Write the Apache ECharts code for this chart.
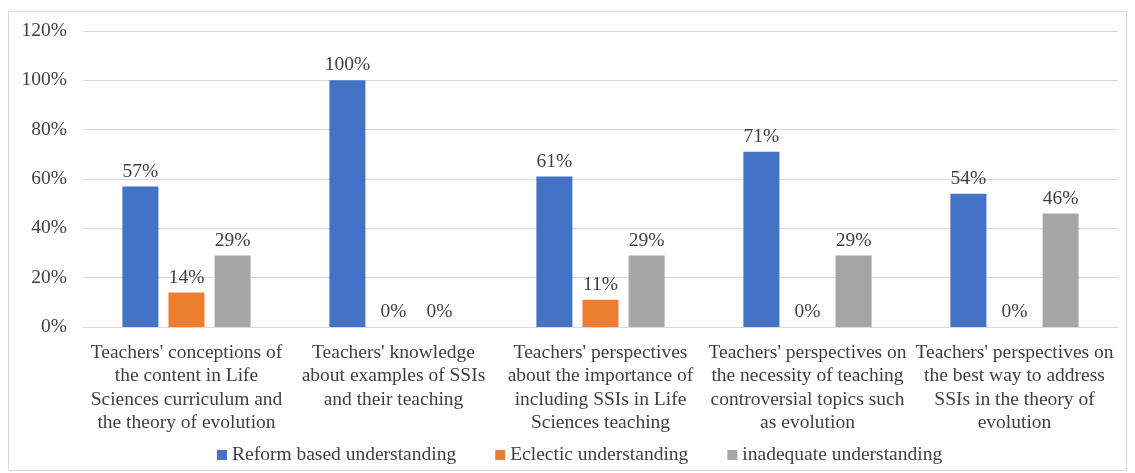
<!DOCTYPE html>
<html>
<head>
<meta charset="utf-8">
<script src="https://cdn.jsdelivr.net/npm/echarts@6/dist/echarts.min.js"></script>
<style>
  html, body { margin: 0; padding: 0; background: #fff; }
  #main { width: 1135px; height: 473px; }
</style>
</head>
<body>
<div id="main"></div>
<script>
// categories as printed under the axis (line breaks as in the figure)
var categories = [
  "Teachers' conceptions of\nthe content in Life\nSciences curriculum and\nthe theory of evolution",
  "Teachers' knowledge\nabout examples of SSIs\nand their teaching",
  "Teachers' perspectives\nabout the importance of\nincluding SSIs in Life\nSciences teaching",
  "Teachers' perspectives on\nthe necessity of teaching\ncontroversial topics such\nas evolution",
  "Teachers' perspectives on\nthe best way to address\nSSIs in the theory of\nevolution"
]
var seriesNames = ['Reform based understanding', 'Eclectic understanding', 'inadequate understanding']
var reformValues = [57, 100, 61, 71, 54]
var eclecticValues = [14, 0, 11, 0, 0]
var inadequateValues = [29, 0, 29, 29, 46]
var yTicks = [0, 20, 40, 60, 80, 100, 120]

var font = 'Liberation Serif'
var textColor = '#404040'
var chartDom = document.getElementById('main')
var myChart = echarts.init(chartDom)

function barSeries(name, data, color) {
  return {
    name: name,
    type: 'bar',
    data: data,
    barWidth: '17.4%',
    barGap: '28%',
    itemStyle: { color: color },
    label: {
      show: true,
      position: 'top',
      distance: 5,
      formatter: '{c}%',
      color: textColor,
      fontFamily: font,
      fontSize: 19.5
    }
  }
}

var option = {
  animation: false,
  backgroundColor: '#fff',
  graphic: [
    {
      type: 'rect',
      shape: { x: 8.5, y: 11.5, width: 1118, height: 459 },
      style: { fill: 'none', stroke: '#d9d9d9', lineWidth: 1 },
      silent: true
    }
  ],
  legend: {
    bottom: 3,
    left: 212,
    itemWidth: 10,
    itemHeight: 10,
    itemGap: 39,
    icon: 'rect',
    textStyle: { color: textColor, fontFamily: font, fontSize: 19.5 },
    data: seriesNames
  },
  grid: {
    left: 83,
    right: 17,
    top: 31,
    bottom: 146,
    containLabel: false
  },
  xAxis: {
    type: 'category',
    data: categories,
    axisTick: { show: false },
    axisLine: { lineStyle: { color: '#d9d9d9' } },
    axisLabel: {
      interval: 0,
      color: textColor,
      fontFamily: font,
      fontSize: 19.5,
      lineHeight: 23.5,
      margin: 14
    }
  },
  yAxis: {
    type: 'value',
    min: yTicks[0],
    max: yTicks[yTicks.length - 1],
    interval: 20,
    axisLine: { show: false },
    axisTick: { show: false },
    splitLine: { lineStyle: { color: '#d9d9d9' } },
    axisLabel: {
      formatter: '{value}%',
      color: textColor,
      fontFamily: font,
      fontSize: 19.5,
      margin: 16
    }
  },
  series: [
    barSeries(seriesNames[0], reformValues, '#4472C4'),
    barSeries(seriesNames[1], eclecticValues, '#ED7D31'),
    barSeries(seriesNames[2], inadequateValues, '#A5A5A5')
  ]
}

myChart.setOption(option)
</script>
</body>
</html>
